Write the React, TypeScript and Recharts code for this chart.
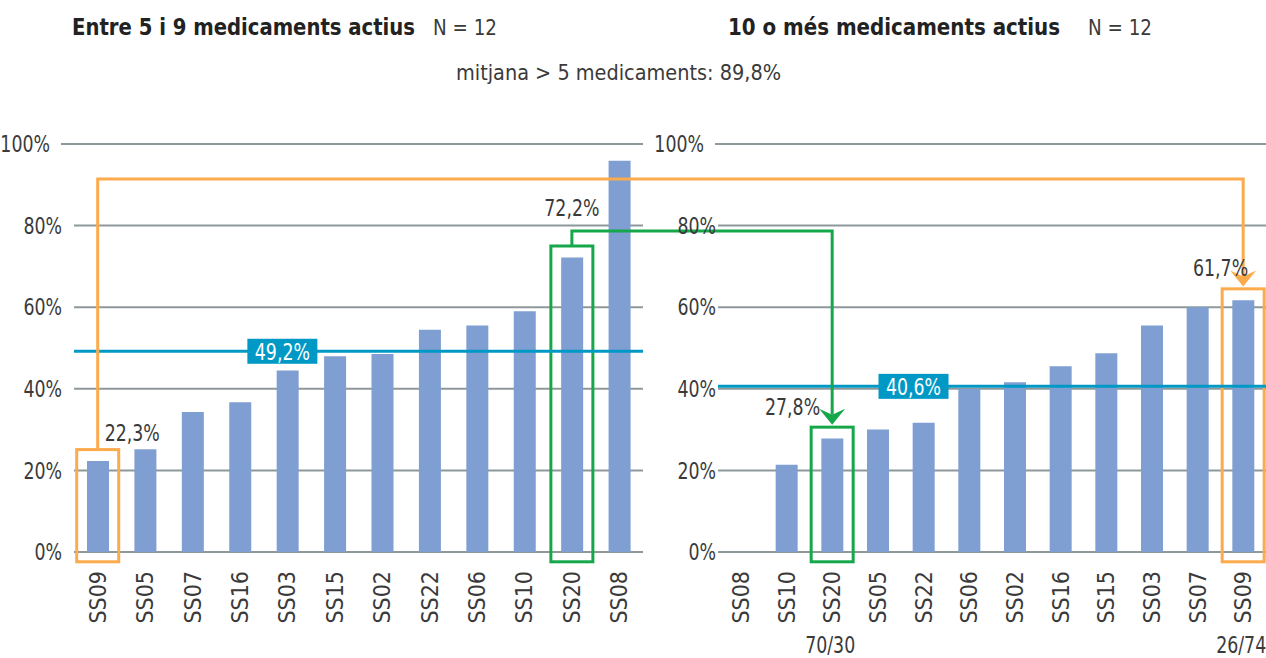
import React from 'react';
import { Bar, BarChart, CartesianGrid, ReferenceArea, ReferenceDot, ReferenceLine, XAxis, YAxis } from 'recharts';

// left panel: 5-9 active drugs, right panel: 10 or more
const leftCats = ['SS09', 'SS05', 'SS07', 'SS16', 'SS03', 'SS15', 'SS02', 'SS22', 'SS06', 'SS10', 'SS20', 'SS08'];
const leftValues = [22.3, 25.2, 34.3, 36.7, 44.5, 48.0, 48.5, 54.5, 55.5, 59.0, 72.2, 95.9];
const rightCats = ['SS08', 'SS10', 'SS20', 'SS05', 'SS22', 'SS06', 'SS02', 'SS16', 'SS15', 'SS03', 'SS07', 'SS09'];
const rightValues = [0, 21.4, 27.8, 30.0, 31.7, 40.0, 41.6, 45.5, 48.7, 55.5, 60.0, 61.7];
const rightNotes: Record<string, string> = { SS20: '70/30', SS09: '26/74' };
const yTicks = [0, 20, 40, 60, 80, 100];
const leftMean = 49.2;
const rightMean = 40.6;
const overallMean = '89,8%';

// categories linked between both panels, and the height of the connector
const links = [
  { cat: 'SS09', color: '#fbaa4c', linkY: 91.4 },
  { cat: 'SS20', color: '#17a74b', linkY: 78.7 },
];

const BLUE = '#7f9ed2';
const TEAL = '#0099c6';
const GRID = '#8e989b';
const TEXT = '#3a3a3a';
const FONT = "'Liberation Sans Narrow', 'DejaVu Sans Condensed', 'Roboto Condensed', 'Open Sans', sans-serif";
const SQUEEZE = 0.84;

const H = 658;
const LEFT_W = 647;
const RIGHT_W = 619;
const PLOT_TOP = 144;
const AXIS_H = 106;
const BOX_PAD = 2.8;
const BOX_BOTTOM = -2.4;

const leftData = leftCats.map((name, i) => ({ name, value: leftValues[i] }));
const rightData = rightCats.map((name, i) => ({ name, value: rightValues[i] }));

const pct = (v: number) => v.toFixed(1).replace('.', ',') + '%';

// condensed text: the narrow font isn't there, so squeeze horizontally
function Narrow(props: any) {
  const { x, y, anchor = 'start', fill = TEXT, size = 23, children } = props;
  return (
    <text transform={`translate(${x},${y}) scale(${SQUEEZE},1)`} dy="0.36em" textAnchor={anchor} fill={fill} fontSize={size} fontFamily={FONT}>
      {children}
    </text>
  );
}

function PctTick(props: any) {
  const { x, y, payload, gap } = props;
  const top = payload.value === 100;
  return (
    <g>
      <Narrow x={x - (top ? 12 : 0)} y={y} anchor="end">
        {payload.value}%
      </Narrow>
      {top && <line x1={x - 1} x2={x + gap} y1={y} y2={y} stroke={GRID} strokeWidth={2} />}
    </g>
  );
}

function CatTick(props: any) {
  const { x, y, payload, notes } = props;
  const note = notes ? notes[payload.value] : undefined;
  return (
    <g>
      <text transform={`translate(${x + 8},${y + 19}) rotate(-90)`} textAnchor="end" fill={TEXT} fontSize={23} fontFamily={FONT}>
        {payload.value}
      </text>
      {note && (
        <Narrow x={x - 2} y={645} anchor="middle">
          {note}
        </Narrow>
      )}
    </g>
  );
}

const boxShape = (color: string) => (p: any) => {
  const cx = p.x + p.width / 2;
  const top = Math.min(p.y, p.y + p.height);
  const h = Math.abs(p.height);
  return <rect x={cx - 21} y={top} width={42} height={h} fill="none" stroke={color} strokeWidth={3} />;
};

// left panel: up from the box, then right to the edge of the svg
const outShape = (color: string) => (p: any) => (
  <path d={`M${p.x1},${p.y1}L${p.x2},${p.y2}L${LEFT_W},${p.y2}`} fill="none" stroke={color} strokeWidth={3} />
);

// right panel: from the left edge, over and down into an arrow head
const inShape = (color: string) => (p: any) => (
  <g>
    <path d={`M0,${p.y1}L${p.x1},${p.y1}L${p.x2},${p.y2 - 10}`} fill="none" stroke={color} strokeWidth={3} />
    <path d={`M${p.x2},${p.y2}L${p.x2 - 13},${p.y2 - 16}L${p.x2},${p.y2 - 10}L${p.x2 + 13},${p.y2 - 16}Z`} fill={color} />
  </g>
);

const badge = (text: string, dx: number) => (p: any) => (
  <g>
    <rect x={p.cx + dx - 35} y={p.cy - 12.5} width={70} height={25} fill={TEAL} />
    <Narrow x={p.cx + dx} y={p.cy} anchor="middle" fill="#fff">
      {text}
    </Narrow>
  </g>
);

const valueText = (text: string, dx: number, anchor: string) => (p: any) => (
  <Narrow x={p.cx + dx} y={p.cy} anchor={anchor}>
    {text}
  </Narrow>
);

function LeftPanel() {
  const val = (c: string) => leftValues[leftCats.indexOf(c)];
  const labelPos: Record<string, { y: number; dx: number; anchor: string }> = {
    SS09: { y: 29.2, dx: 7, anchor: 'start' },
    SS20: { y: 84.3, dx: 0, anchor: 'middle' },
  };
  return (
    <BarChart width={LEFT_W} height={H} data={leftData} margin={{ top: PLOT_TOP, right: 4, bottom: 0, left: 0 }}>
      <CartesianGrid vertical={false} stroke={GRID} strokeWidth={2} />
      <XAxis dataKey="name" axisLine={false} tickLine={false} tickSize={0} tickMargin={0} interval={0} height={AXIS_H} tick={(p: any) => <CatTick {...p} />} />
      <YAxis domain={[0, 100]} ticks={yTicks} width={74} axisLine={false} tickLine={false} tickSize={0} tickMargin={12} tick={(p: any) => <PctTick {...p} gap={12} />} />
      <Bar dataKey="value" fill={BLUE} barSize={22} isAnimationActive={false} />
      <ReferenceLine y={leftMean} stroke={TEAL} strokeWidth={3} />
      <ReferenceDot x="SS03" y={leftMean} r={0} shape={badge(pct(leftMean), -5)} />
      {links.map((l) => (
        <ReferenceArea key={'a' + l.cat} x1={l.cat} x2={l.cat} y1={BOX_BOTTOM} y2={val(l.cat) + BOX_PAD} ifOverflow="visible" shape={boxShape(l.color)} />
      ))}
      {links.map((l) => (
        <ReferenceLine key={'l' + l.cat} segment={[{ x: l.cat, y: val(l.cat) + BOX_PAD }, { x: l.cat, y: l.linkY }]} shape={outShape(l.color)} />
      ))}
      {links.map((l) => (
        <ReferenceDot key={'t' + l.cat} x={l.cat} y={labelPos[l.cat].y} r={0} shape={valueText(pct(val(l.cat)), labelPos[l.cat].dx, labelPos[l.cat].anchor)} />
      ))}
    </BarChart>
  );
}

function RightPanel() {
  const val = (c: string) => rightValues[rightCats.indexOf(c)];
  const labelPos: Record<string, { y: number; dx: number; anchor: string }> = {
    SS20: { y: 35.5, dx: -12, anchor: 'end' },
    SS09: { y: 69.6, dx: 5, anchor: 'end' },
  };
  return (
    <BarChart width={RIGHT_W} height={H} data={rightData} margin={{ top: PLOT_TOP, right: 0, bottom: 0, left: 0 }}>
      <CartesianGrid vertical={false} stroke={GRID} strokeWidth={2} />
      <XAxis dataKey="name" axisLine={false} tickLine={false} tickSize={0} tickMargin={0} interval={0} height={AXIS_H} tick={(p: any) => <CatTick {...p} notes={rightNotes} />} />
      <YAxis domain={[0, 100]} ticks={yTicks} width={71} axisLine={false} tickLine={false} tickSize={0} tickMargin={2} tick={(p: any) => <PctTick {...p} gap={2} />} />
      <Bar dataKey="value" fill={BLUE} barSize={22} isAnimationActive={false} />
      <ReferenceLine y={rightMean} stroke={TEAL} strokeWidth={3} />
      <ReferenceDot x="SS22" y={rightMean} r={0} shape={badge(pct(rightMean), -10)} />
      {links.map((l) => (
        <ReferenceArea key={'a' + l.cat} x1={l.cat} x2={l.cat} y1={BOX_BOTTOM} y2={val(l.cat) + BOX_PAD} ifOverflow="visible" shape={boxShape(l.color)} />
      ))}
      {links.map((l) => (
        <ReferenceLine key={'l' + l.cat} segment={[{ x: l.cat, y: l.linkY }, { x: l.cat, y: val(l.cat) + BOX_PAD + 0.6 }]} shape={inShape(l.color)} />
      ))}
      {links.map((l) => (
        <ReferenceDot key={'t' + l.cat} x={l.cat} y={labelPos[l.cat].y} r={0} shape={valueText(pct(val(l.cat)), labelPos[l.cat].dx, labelPos[l.cat].anchor)} />
      ))}
    </BarChart>
  );
}

export default function App() {
  return (
    <div style={{ position: 'absolute', left: 0, top: 0, width: 1266, height: H, background: '#fff', overflow: 'hidden' }}>
      <div style={{ position: 'absolute', left: 0, top: 0 }}>
        <LeftPanel />
      </div>
      <div style={{ position: 'absolute', left: LEFT_W, top: 0 }}>
        <RightPanel />
      </div>
      <svg width={1266} height={100} style={{ position: 'absolute', left: 0, top: 0, pointerEvents: 'none' }} fontFamily={FONT}>
        <text x={72} y={35} fontSize={23} fontWeight="bold" fill="#222" textLength={343} lengthAdjust="spacingAndGlyphs">
          Entre 5 i 9 medicaments actius
        </text>
        <text x={433} y={35} fontSize={22} fill={TEXT} textLength={64} lengthAdjust="spacingAndGlyphs">
          N = 12
        </text>
        <text x={728} y={35} fontSize={23} fontWeight="bold" fill="#222" textLength={332} lengthAdjust="spacingAndGlyphs">
          10 o més medicaments actius
        </text>
        <text x={1088} y={35} fontSize={22} fill={TEXT} textLength={64} lengthAdjust="spacingAndGlyphs">
          N = 12
        </text>
        <text x={456} y={80} fontSize={22} fill={TEXT} textLength={325} lengthAdjust="spacingAndGlyphs">
          {'mitjana > 5 medicaments: ' + overallMean}
        </text>
      </svg>
    </div>
  );
}
